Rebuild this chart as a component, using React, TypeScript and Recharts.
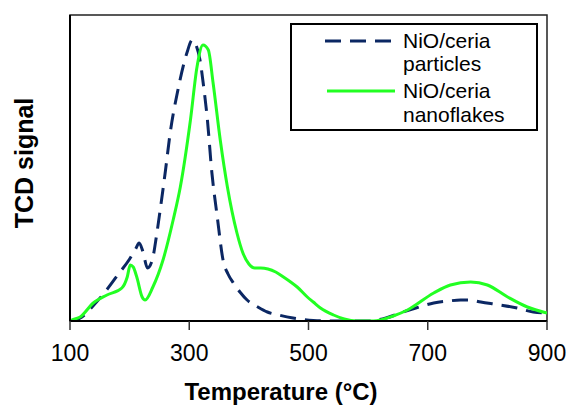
import React from 'react';
import { LineChart, Line, XAxis, YAxis, Legend, ReferenceArea } from 'recharts';

const xTicks = [100, 300, 500, 700, 900];

const particlesT = [100, 110, 120, 140, 160, 180, 200, 210, 216, 222, 230, 238, 245, 251, 260, 268, 281, 296, 305, 312, 318, 324, 330, 338, 347, 357, 365, 374, 385, 397, 415, 431, 450, 474, 508, 540, 600, 630, 654, 680, 710, 735, 755, 770, 789, 822, 850, 877, 900];
const particlesV = [0, 1, 4, 16, 30, 46, 62, 72, 78, 70, 53, 61, 85, 110, 150, 188, 231, 268, 281, 275, 261, 235, 204, 148, 104, 60, 47, 38, 29, 21, 14, 9, 6, 3, 0.5, 0, 0, 3, 8, 13, 18, 20, 21, 21, 19, 16, 13, 9, 8];

const flakesT = [100, 103, 117, 139, 162, 187, 196, 201, 206, 212, 221, 226, 239, 256, 273, 285, 302, 313, 323, 332, 340, 352, 364, 380, 390, 400, 410, 420, 432, 445, 458, 470, 481, 498, 508, 520, 542, 560, 580, 609, 642, 666, 710, 738, 772, 800, 834, 867, 900];
const flakesV = [0, 1, 4, 18, 26, 33, 44, 56, 54, 44, 24, 21, 34, 61, 101, 134, 201, 254, 276, 271, 238, 181, 134, 88, 68, 57, 53, 53, 52, 49, 44, 39, 34, 24, 19, 13, 6, 2, 0, 0, 5, 11, 28, 36, 39, 36, 24, 14, 8];

const seriesNames = ['NiO/ceria particles', 'NiO/ceria nanoflakes'];

const particlesData = particlesT.map((t, i) => ({ t, v: particlesV[i] }));
const flakesData = flakesT.map((t, i) => ({ t, v: flakesV[i] }));

const NAVY = '#0B2763';
const GREEN = '#22FF22';
const FONT = '"Liberation Sans", Arial, sans-serif';

const LegendBox = () => (
  <svg width={248} height={108} style={{ display: 'block' }}>
    <rect x={1} y={1} width={246} height={106} fill="#fff" stroke="#000" strokeWidth={2} />
    <line x1={35} y1={18} x2={105} y2={18} stroke={NAVY} strokeWidth={3} strokeDasharray="16 9" />
    <line x1={37} y1={68} x2={105} y2={68} stroke={GREEN} strokeWidth={3} />
    <g fontFamily={FONT} fontSize={21} fill="#000">
      <text x={113} y={25}>NiO/ceria</text>
      <text x={113} y={48}>particles</text>
      <text x={113} y={75}>NiO/ceria</text>
      <text x={113} y={99}>nanoflakes</text>
    </g>
  </svg>
);

export default function App() {
  return (
    <div style={{ width: 573, height: 405 }}>
      <style>{`body{margin:0;}`}</style>
      <LineChart width={573} height={405} margin={{ top: 15, right: 26, left: 0, bottom: 0 }}>
        <XAxis
          type="number"
          dataKey="t"
          domain={[100, 900]}
          ticks={xTicks}
          allowDataOverflow
          height={84}
          tickSize={9}
          tickMargin={15}
          axisLine={{ stroke: '#000', strokeWidth: 2 }}
          tickLine={{ stroke: '#333', strokeWidth: 1.5 }}
          tick={{ fill: '#000', fontSize: 23, fontFamily: FONT }}
          label={{
            content: () => (
              <text x={281} y={400} textAnchor="middle" fontFamily={FONT} fontSize={24} fontWeight="bold" fill="#000">
                Temperature (°C)
              </text>
            ),
          }}
        />
        <YAxis
          type="number"
          domain={[0, 306]}
          allowDataOverflow
          width={70}
          tick={false}
          tickLine={false}
          axisLine={{ stroke: '#000', strokeWidth: 2 }}
          label={{
            content: () => (
              <text
                x={33}
                y={163}
                textAnchor="middle"
                transform="rotate(-90, 33, 163)"
                fontFamily={FONT}
                fontSize={25}
                fontWeight="bold"
                fill="#000"
              >
                TCD signal
              </text>
            ),
          }}
        />
        <ReferenceArea x1={100} x2={900} y1={0} y2={306} fill="none" fillOpacity={0} stroke="#222" strokeWidth={1.5} ifOverflow="visible" />
        <Line
          data={particlesData}
          dataKey="v"
          name={seriesNames[0]}
          type="monotone"
          stroke={NAVY}
          strokeWidth={3}
          strokeDasharray="16 9"
          dot={false}
          isAnimationActive={false}
        />
        <Line
          data={flakesData}
          dataKey="v"
          name={seriesNames[1]}
          type="monotone"
          stroke={GREEN}
          strokeWidth={3}
          dot={false}
          isAnimationActive={false}
        />
        <Legend
          layout="vertical"
          align="center"
          verticalAlign="middle"
          content={() => <LegendBox />}
          wrapperStyle={{ position: 'absolute', left: 290, top: 23, width: 248, height: 108 }}
        />
      </LineChart>
    </div>
  );
}
